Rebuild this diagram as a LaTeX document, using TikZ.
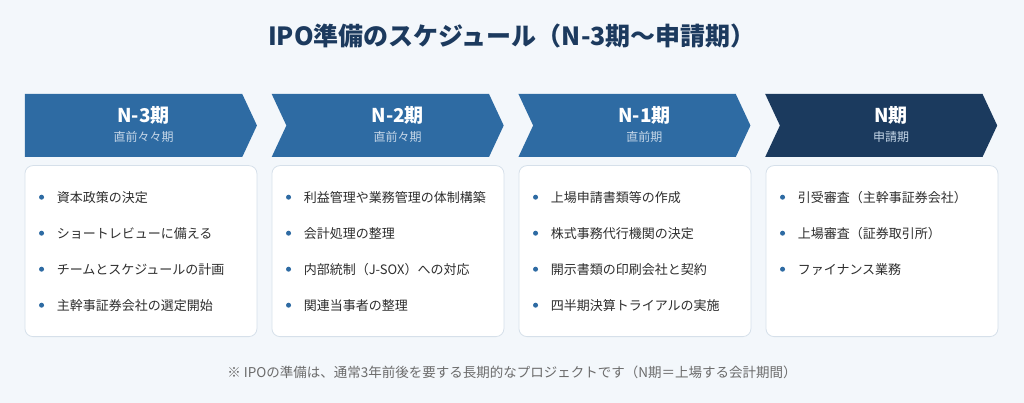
\documentclass[tikz,border=0pt]{standalone}
\usepackage{fontspec}
\setmainfont{Noto Sans CJK JP}
\usetikzlibrary{positioning,shapes.symbols}
\definecolor{PageBg}{HTML}{F3F7FB}
\definecolor{TitleNavy}{HTML}{1C3A5E}
\definecolor{PhaseBlue}{HTML}{2E6BA3}
\definecolor{PhaseNavy}{HTML}{1B3A5E}
\definecolor{SubText}{HTML}{C6D7E8}
\definecolor{BoxLine}{HTML}{D6E0EA}
\definecolor{TaskText}{HTML}{2E2E2E}
\definecolor{DotBlue}{HTML}{2E6BA3}
\definecolor{FootGray}{HTML}{6B6B6B}
\tikzset{
    phase/.style = {signal, signal to=east, signal from=west,
        signal pointer angle=130, draw=none, fill=PhaseBlue,
        minimum width=232pt, minimum height=63pt,
        inner sep=0pt, text=white},
    firstphase/.style = {phase, signal from=nowhere},
    lastphase/.style = {phase, fill=PhaseNavy},
    taskbox/.style = {draw=BoxLine, fill=white, line width=0.8pt,
        rounded corners=8pt, minimum width=232pt, minimum height=171pt},
    task/.style = {anchor=west, inner sep=0pt, text=TaskText,
        font=\fontsize{13}{15}\selectfont},
    dot/.style = {fill=DotBlue}
}
\newcommand{\phaselabel}[2]{\hspace*{20pt}\raisebox{-4pt}{\begin{tabular}{@{}c@{}}%
    {\fontsize{19}{22}\selectfont\bfseries #1}\\[5.5pt]%
    {\fontsize{12}{14}\selectfont\color{SubText}#2}\end{tabular}}}
\begin{document}
\begin{tikzpicture}[x=1pt, y=-1pt, node distance=29pt]
    \fill[PageBg] (0,0) rectangle (1024,403);
    \useasboundingbox (0,0) rectangle (1024,403);
    \node [text=TitleNavy, font=\fontsize{25}{30}\selectfont\bfseries] (title) at (512,36)
        {IPO準備のスケジュール（N-3期〜申請期）};
    % phases
    \node [firstphase] (p1) at (133.6,125.5) {\phaselabel{N-3期}{直前々々期}};
    \node [phase, right=of p1] (p2) {\phaselabel{N-2期}{直前々期}};
    \node [phase, right=of p2] (p3) {\phaselabel{N-1期}{直前期}};
    \node [lastphase, right=of p3] (p4) {\phaselabel{N期}{申請期}};
    % boxes
    \node [taskbox, below=8pt of p1, xshift=7.35pt] (b1) {};
    \node [taskbox, right=14.2pt of b1] (b2) {};
    \node [taskbox, right=14.2pt of b2] (b3) {};
    \node [taskbox, right=14.2pt of b3] (b4) {};
    % tasks
    \foreach \k/\tasks in {1/{資本政策の決定,ショートレビューに備える,チームとスケジュールの計画,主幹事証券会社の選定開始},
        2/{利益管理や業務管理の体制構築,会計処理の整理,内部統制（J-SOX）への対応,関連当事者の整理},
        3/{上場申請書類等の作成,株式事務代行機関の決定,開示書類の印刷会社と契約,四半期決算トライアルの実施},
        4/{引受審査（主幹事証券会社）,上場審査（証券取引所）,ファイナンス業務}} {
        \foreach \t [count=\j, evaluate=\j as \dy using -32-36*(\j-1)] in \tasks {
            \node [task] (t\k-\j) at ([xshift=32pt, yshift=\dy pt]b\k.north west) {\t};
            \fill [dot] ([xshift=-15pt]t\k-\j.west) circle (2.5pt);
        }
    }
    \node [text=FootGray, font=\fontsize{13.5}{16}\selectfont] (note) at (512,372)
        {※ IPOの準備は、通常3年前後を要する長期的なプロジェクトです（N期＝上場する会計期間）};
\end{tikzpicture}
\end{document}
